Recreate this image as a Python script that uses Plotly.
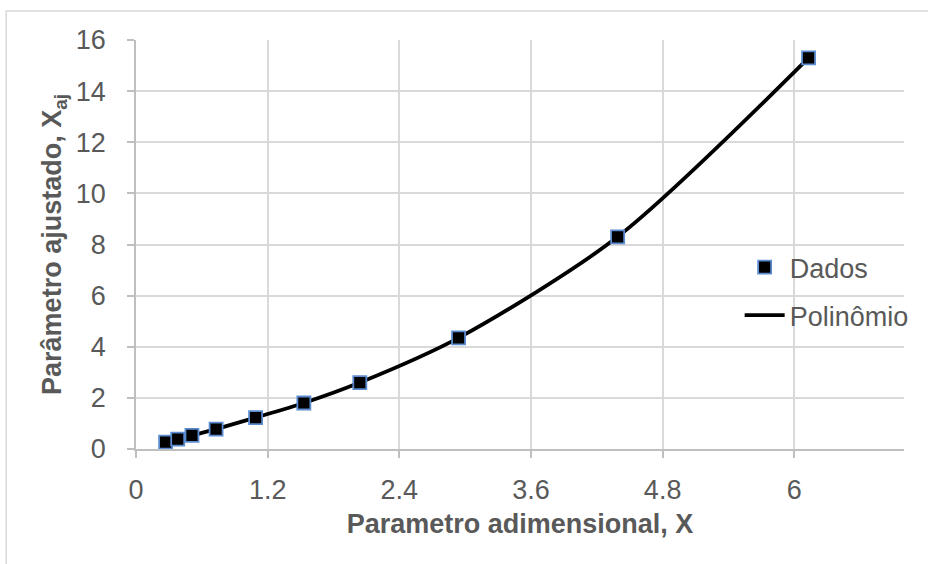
import plotly.graph_objects as go

# Measured points: dimensionless parameter X vs. adjusted parameter X_aj
x_dados = [0.27, 0.38, 0.51, 0.73, 1.09, 1.53, 2.04, 2.94, 4.39, 6.13]
y_dados = [0.27, 0.39, 0.53, 0.78, 1.23, 1.80, 2.60, 4.35, 8.30, 15.30]

x_ticks = [0, 1.2, 2.4, 3.6, 4.8, 6]
y_ticks = [0, 2, 4, 6, 8, 10, 12, 14, 16]

GRID = "#D9D9D9"
AXIS = "#BFBFBF"
TEXT = "#595959"
FONT = "Liberation Sans, Arial, sans-serif"
FS = 27

fig = go.Figure()

# Smooth polynomial trend drawn through the data
fig.add_trace(go.Scatter(
    x=x_dados, y=y_dados, mode="lines", name="Polinômio",
    legendgroup="poly", legendrank=2,
    line=dict(color="black", width=3.8, shape="spline", smoothing=0.8),
))

fig.add_trace(go.Scatter(
    x=x_dados, y=y_dados, mode="markers", name="Dados",
    legendgroup="dados", legendrank=1,
    marker=dict(symbol="square", size=13, color="black",
                line=dict(color="#5B8BD0", width=1.8)),
))

fig.update_layout(
    width=928, height=564,
    margin=dict(l=136, r=24, t=40, b=115),
    paper_bgcolor="white", plot_bgcolor="white",
    font=dict(family=FONT, size=FS, color=TEXT),
    showlegend=True,
    legend=dict(
        x=0.786, y=0.385, xanchor="left", yanchor="middle",
        traceorder="grouped", bgcolor="rgba(0,0,0,0)",
        font=dict(size=FS, color=TEXT), itemwidth=40,
        tracegroupgap=10,
    ),
    shapes=[dict(
        type="rect", xref="paper", yref="paper",
        x0=-0.169, x1=1.04, y0=-0.31, y1=1.071,
        line=dict(color=GRID, width=1.5), fillcolor="rgba(0,0,0,0)",
        layer="below",
    )],
)

fig.update_xaxes(
    range=[0, 7.0], tickvals=x_ticks, ticktext=[f"{v:g}" for v in x_ticks],
    showgrid=True, gridcolor=GRID, gridwidth=1.5,
    zeroline=False, showline=True, linecolor=AXIS, linewidth=1.5,
    ticks="outside", ticklen=7, tickcolor=AXIS, tickwidth=1.5,
    ticklabelstandoff=9,
    tickfont=dict(size=FS, color=TEXT, family=FONT),
    title=dict(text="<b>Parametro adimensional, X</b>", standoff=10,
               font=dict(size=FS, color=TEXT, family=FONT)),
)

fig.update_yaxes(
    range=[0, 16], tickvals=y_ticks,
    showgrid=True, gridcolor=GRID, gridwidth=1.5,
    zeroline=False, showline=True, linecolor=AXIS, linewidth=1.5,
    ticks="outside", ticklen=7, tickcolor=AXIS, tickwidth=1.5,
    ticklabelstandoff=16,
    tickfont=dict(size=FS, color=TEXT, family=FONT),
    title=dict(text="<b>Parâmetro ajustado, X<sub>aj</sub></b>", standoff=6,
               font=dict(size=FS, color=TEXT, family=FONT)),
)

fig.write_html("out.html")
